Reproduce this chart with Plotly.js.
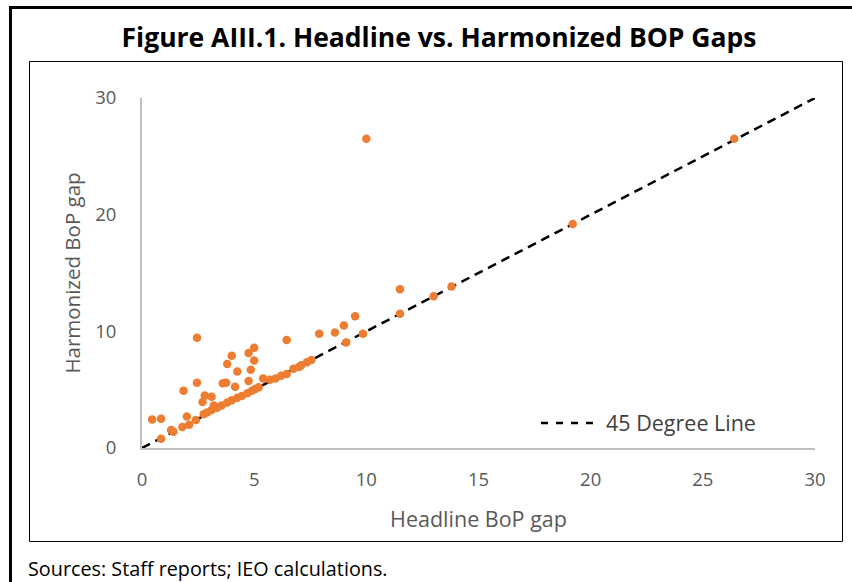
<!DOCTYPE html>
<html>
<head>
<meta charset="utf-8">
<script src="https://cdn.plot.ly/plotly-3.0.1.min.js"></script>
<style>
  html, body { margin: 0; padding: 0; background: #ffffff; }
  #chart { width: 852px; height: 582px; }
</style>
</head>
<body>
<div id="chart"></div>
<script>
// ---- Data ----
const headlineGap = [
  10.0, 26.4, 19.2, 13.8, 13.0, 11.5, 11.5, 9.5, 9.0, 8.6,
  7.9, 9.85, 9.1, 6.45, 2.45, 5.0, 4.75, 4.0, 3.8, 5.0,
  4.25, 4.85, 2.45, 3.6, 3.75, 4.75, 4.15, 1.85, 2.8, 3.1,
  2.7, 0.45, 0.85, 2.0, 0.85, 1.3, 1.4, 1.8, 2.1, 2.4,
  2.75, 2.9, 3.1, 3.35, 3.55, 3.8, 4.0, 4.25, 4.45, 4.7,
  4.9, 5.05, 5.2, 5.4, 5.7, 5.95, 6.2, 6.45, 6.75, 7.0,
  7.1, 7.35, 7.55, 3.2
];
const harmonizedGap = [
  26.5, 26.5, 19.2, 13.85, 13.0, 13.6, 11.5, 11.3, 10.5, 9.9,
  9.8, 9.8, 9.05, 9.25, 9.45, 8.6, 8.15, 7.9, 7.2, 7.5,
  6.55, 6.7, 5.6, 5.55, 5.6, 5.75, 5.25, 4.9, 4.5, 4.4,
  3.95, 2.45, 2.5, 2.7, 0.8, 1.55, 1.4, 1.8, 2.0, 2.4,
  2.9, 3.05, 3.25, 3.45, 3.65, 3.9, 4.1, 4.3, 4.45, 4.7,
  4.9, 5.05, 5.2, 5.95, 5.85, 5.95, 6.2, 6.35, 6.8, 6.95,
  7.1, 7.35, 7.55, 3.65
];
const lineX = [0, 30];
const lineY = [0, 30];
const lineName = '45 Degree Line';
const xTickVals = [0, 5, 10, 15, 20, 25, 30];
const yTickVals = [0, 10, 20, 30];
const titleText = 'Figure AIII.1. Headline vs. Harmonized BOP Gaps';
const xTitle = 'Headline BoP gap';
const yTitle = 'Harmonized BoP gap';
const sourceNote = 'Sources: Staff reports; IEO calculations.';

// ---- Layout geometry ----
const W = 852, H = 582;
const M = { l: 142, r: 37, t: 98, b: 134 };
const plotW = W - M.l - M.r, plotH = H - M.t - M.b;
const px = v => (v - M.l) / plotW;          // pixel x -> paper x
const py = v => (H - M.b - v) / plotH;      // pixel y -> paper y

const FONT = '"Open Sans", "Noto Sans", sans-serif';
const GREY = '#595959';
const LINE_STYLE = { color: '#000000', width: 2.5, dash: '9px,6px' };

const traces = [
  {
    x: lineX, y: lineY, mode: 'lines', name: lineName,
    line: LINE_STYLE, hoverinfo: 'skip', showlegend: false
  },
  {
    x: headlineGap, y: harmonizedGap, mode: 'markers', name: 'Gaps',
    marker: { color: '#ED7D31', size: 8.5, line: { width: 0 } },
    showlegend: false, cliponaxis: false
  }
];

const layout = {
  width: W, height: H,
  margin: M,
  paper_bgcolor: '#ffffff', plot_bgcolor: '#ffffff',
  font: { family: FONT, color: GREY },
  title: {
    text: '<b>' + titleText + '</b>',
    font: { family: FONT, size: 26.5, color: '#000000' },
    xref: 'paper', x: px(439), xanchor: 'center',
    yref: 'container', y: 1 - 38 / H, yanchor: 'middle'
  },
  xaxis: {
    range: [0, 30], tickvals: xTickVals, ticktext: xTickVals.map(String),
    showline: true, linecolor: '#bfbfbf', linewidth: 2,
    showgrid: false, zeroline: false, ticks: '',
    ticklabelstandoff: 14,
    tickfont: { family: FONT, size: 18.5, color: GREY },
    title: { text: xTitle, font: { family: FONT, size: 21.5, color: GREY }, standoff: 22 },
    automargin: false, fixedrange: true
  },
  yaxis: {
    range: [0, 30], tickvals: yTickVals, ticktext: yTickVals.map(String),
    showline: true, linecolor: '#bfbfbf', linewidth: 2,
    showgrid: false, zeroline: false, ticks: '',
    ticklabelstandoff: 20,
    tickfont: { family: FONT, size: 18.5, color: GREY },
    title: { text: yTitle, font: { family: FONT, size: 20.5, color: GREY }, standoff: 9 },
    automargin: false, fixedrange: true
  },
  showlegend: false,
  shapes: [
    // outer frame: thick left and top rules
    { type: 'line', xref: 'paper', yref: 'paper', x0: px(10.5), x1: px(10.5), y0: py(6), y1: py(582),
      line: { color: '#000000', width: 3 } },
    { type: 'line', xref: 'paper', yref: 'paper', x0: px(9), x1: px(852), y0: py(7.5), y1: py(7.5),
      line: { color: '#000000', width: 3 } },
    // inner chart box
    { type: 'rect', xref: 'paper', yref: 'paper', x0: px(29.5), x1: px(842.5), y0: py(61.5), y1: py(541.5),
      line: { color: '#000000', width: 1 }, fillcolor: 'rgba(0,0,0,0)', layer: 'below' },
    // legend sample for the 45 degree line
    { type: 'line', xref: 'paper', yref: 'paper', x0: px(541), x1: px(598), y0: py(423), y1: py(423),
      line: { color: '#000000', width: 2.5, dash: '7px,8px' } }
  ],
  annotations: [
    { text: lineName, xref: 'paper', yref: 'paper', x: px(604), y: py(422),
      xanchor: 'left', yanchor: 'middle', showarrow: false,
      font: { family: FONT, size: 21.5, color: '#404040' } },
    { text: sourceNote, xref: 'paper', yref: 'paper', x: px(26), y: py(568),
      xanchor: 'left', yanchor: 'middle', showarrow: false,
      font: { family: FONT, size: 19.8, color: '#000000' } }
  ]
};

Plotly.newPlot('chart', traces, layout, { displayModeBar: false, staticPlot: true });
</script>
</body>
</html>
